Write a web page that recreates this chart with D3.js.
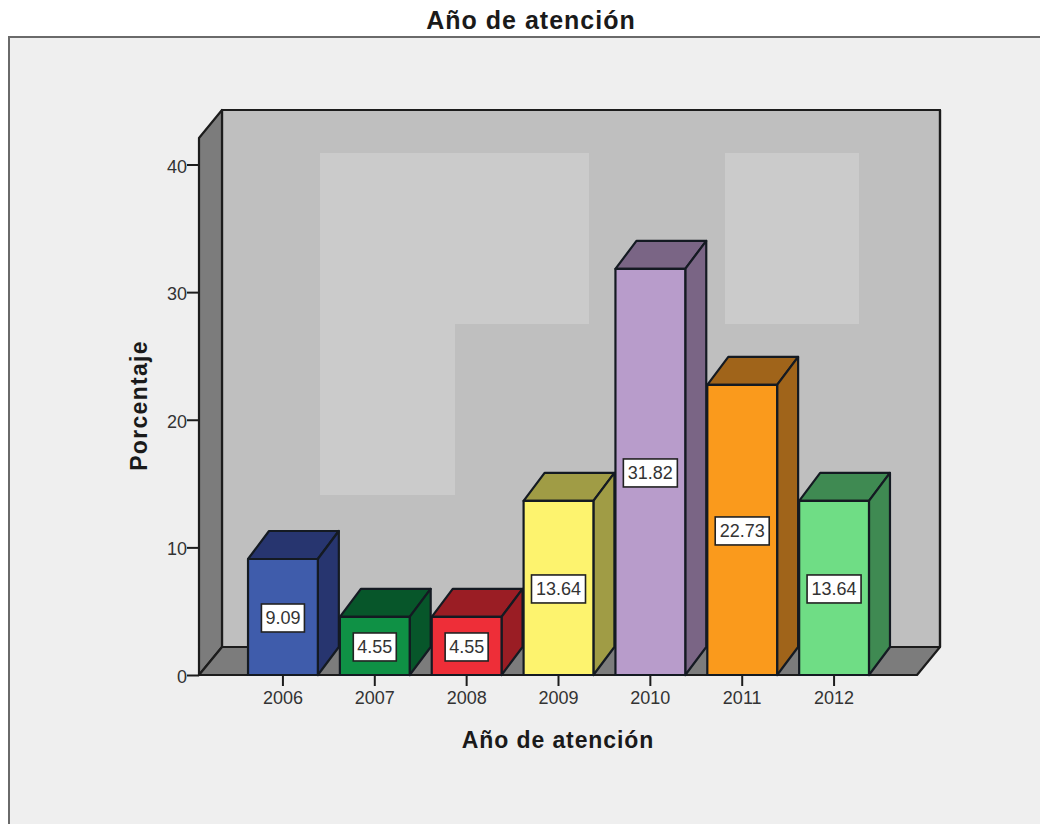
<!DOCTYPE html>
<html lang="es">
<head>
<meta charset="utf-8">
<title>Año de atención</title>
<script src="https://cdn.jsdelivr.net/npm/d3@7/dist/d3.min.js"></script>
<style>
  html, body { margin: 0; padding: 0; background: #fff; }
  svg { display: block; }
  text { font-family: "Liberation Sans", Arial, sans-serif; }
</style>
</head>
<body>
<div id="chart"></div>
<script>
const years = ["2006", "2007", "2008", "2009", "2010", "2011", "2012"];
const percentages = [9.09, 4.55, 4.55, 13.64, 31.82, 22.73, 13.64];
const frontColors = ["#3f5cab", "#0f9145", "#ee2e38", "#fdf36e", "#b89ccb", "#fa9a1c", "#6fdd85"];
const topColors = ["#27356f", "#07562a", "#9a1d24", "#a09c45", "#7a6585", "#a0641a", "#3f8a52"];
const yTicks = [0, 10, 20, 30, 40];
const chartTitle = "Año de atención";
const xAxisTitle = "Año de atención";
const yAxisTitle = "Porcentaje";

const width = 1040, height = 824;
const svg = d3.select("#chart").append("svg")
  .attr("width", width).attr("height", height);

const y = d3.scaleLinear().domain([0, 40]).range([675, 164.5]);
const x = d3.scaleBand().domain(years).range([237, 880]).paddingInner(0.24).paddingOuter(0.12);

// Oblique offset of the 3D box, for the plot walls and for each bar
const wallDx = 23, wallDy = -28;
const barDx = 21, barDy = -28;
const yTopFront = 138;  // front edge of the wall's top
const xLeft = 199, xRight = 917;
const ink = "#1c1c1c";
const textInk = "#333";
const poly = pts => "M" + pts.map(p => p.join(",")).join("L") + "Z";

// Outer panel
svg.append("rect").attr("x", 9).attr("y", 37).attr("width", width + 10).attr("height", height)
  .attr("fill", "#efefef").attr("stroke", "#6a6a6a").attr("stroke-width", 2);

svg.append("text").attr("x", 531).attr("y", 29).attr("text-anchor", "middle")
  .attr("font-size", 25).attr("font-weight", 700).attr("letter-spacing", 1).attr("fill", "#1a1a1a").text(chartTitle);

const walls = svg.append("g").attr("stroke", ink).attr("stroke-width", 2.2).attr("stroke-linejoin", "round");

// Back wall with its lighter panels
walls.append("rect")
  .attr("x", xLeft + wallDx).attr("y", yTopFront + wallDy)
  .attr("width", xRight - xLeft).attr("height", y(0) - yTopFront)
  .attr("fill", "#bfbfbf");

const wallPatches = svg.append("g").attr("fill", "#cbcbcb");
wallPatches.append("path").attr("d", poly([[320, 153], [589, 153], [589, 324], [455, 324], [455, 495], [320, 495]]));
wallPatches.append("path").attr("d", poly([[725, 153], [859, 153], [859, 324], [725, 324]]));

const walls2 = svg.append("g").attr("stroke", ink).attr("stroke-width", 2.2).attr("stroke-linejoin", "round");

// Side wall
walls2.append("path").attr("fill", "#7c7c7c").attr("d", poly([
  [xLeft, y(0)], [xLeft, yTopFront], [xLeft + wallDx, yTopFront + wallDy], [xLeft + wallDx, y(0) + wallDy]
]));

// Floor
walls2.append("path").attr("fill", "#7c7c7c").attr("d", poly([
  [xLeft, y(0)], [xRight, y(0)], [xRight + wallDx, y(0) + wallDy], [xLeft + wallDx, y(0) + wallDy]
]));

// Top and right edges of the back wall, redrawn above the lighter panels
walls2.append("path").attr("fill", "none").attr("d",
  `M${xLeft + wallDx},${yTopFront + wallDy}H${xRight + wallDx}V${y(0) + wallDy}`);

// Bars: each one is a front face, an upper face and a side face
const bars = svg.append("g").attr("stroke", "#141a22").attr("stroke-width", 2.2).attr("stroke-linejoin", "round")
  .selectAll("g").data(years).join("g");

bars.append("path")
  .attr("fill", (d, i) => topColors[i])
  .attr("d", (d, i) => {
    const l = x(d), r = l + x.bandwidth(), t = y(percentages[i]);
    return poly([[l, t], [l + barDx, t + barDy], [r + barDx, t + barDy], [r, t]]);
  });
bars.append("path")
  .attr("fill", (d, i) => topColors[i])
  .attr("d", (d, i) => {
    const r = x(d) + x.bandwidth(), t = y(percentages[i]);
    return poly([[r, t], [r + barDx, t + barDy], [r + barDx, y(0) + barDy], [r, y(0)]]);
  });
bars.append("rect")
  .attr("x", d => x(d)).attr("width", x.bandwidth())
  .attr("y", (d, i) => y(percentages[i]))
  .attr("height", (d, i) => y(0) - y(percentages[i]))
  .attr("fill", (d, i) => frontColors[i]);

// Value labels in white boxes at the middle of each bar
const labels = svg.append("g").selectAll("g").data(years).join("g")
  .attr("transform", (d, i) =>
    `translate(${x(d) + x.bandwidth() / 2},${y(percentages[i] / 2) + 1})`);
labels.append("rect")
  .attr("x", (d, i) => percentages[i] >= 10 ? -27 : -21.5)
  .attr("width", (d, i) => percentages[i] >= 10 ? 54 : 43)
  .attr("y", -14).attr("height", 28)
  .attr("fill", "#fff").attr("stroke", "#222").attr("stroke-width", 1.6);
labels.append("text")
  .attr("text-anchor", "middle").attr("dy", "0.36em")
  .attr("font-size", 18).attr("fill", textInk)
  .text((d, i) => percentages[i].toFixed(2));

// Y axis: ticks sit to the left of the side wall
const yAxis = svg.append("g").attr("transform", `translate(${xLeft},0)`)
  .call(d3.axisLeft(y).tickValues(yTicks).tickSize(12).tickPadding(0).tickFormat(d3.format("d")));
yAxis.select(".domain").remove();
yAxis.selectAll("line").attr("stroke", ink).attr("stroke-width", 2);
yAxis.selectAll("text").attr("font-size", 18).attr("fill", textInk).attr("dy", "0.42em")
  .style("font-family", '"Liberation Sans", Arial, sans-serif');

// X axis
const xAxis = svg.append("g").attr("transform", `translate(0,${y(0)})`)
  .call(d3.axisBottom(x).tickSize(11).tickPadding(5));
xAxis.select(".domain").remove();
xAxis.selectAll("line").attr("stroke", ink).attr("stroke-width", 2);
xAxis.selectAll("text").attr("font-size", 18).attr("fill", textInk)
  .style("font-family", '"Liberation Sans", Arial, sans-serif');

svg.append("text").attr("x", 558).attr("y", 748).attr("text-anchor", "middle")
  .attr("font-size", 23).attr("font-weight", 700).attr("letter-spacing", 0.9).attr("fill", "#1a1a1a").text(xAxisTitle);

svg.append("text").attr("transform", "translate(147,405.5) rotate(-90)").attr("text-anchor", "middle")
  .attr("font-size", 23).attr("font-weight", 700).attr("letter-spacing", 1.3).attr("fill", "#1a1a1a").text(yAxisTitle);
</script>
</body>
</html>
